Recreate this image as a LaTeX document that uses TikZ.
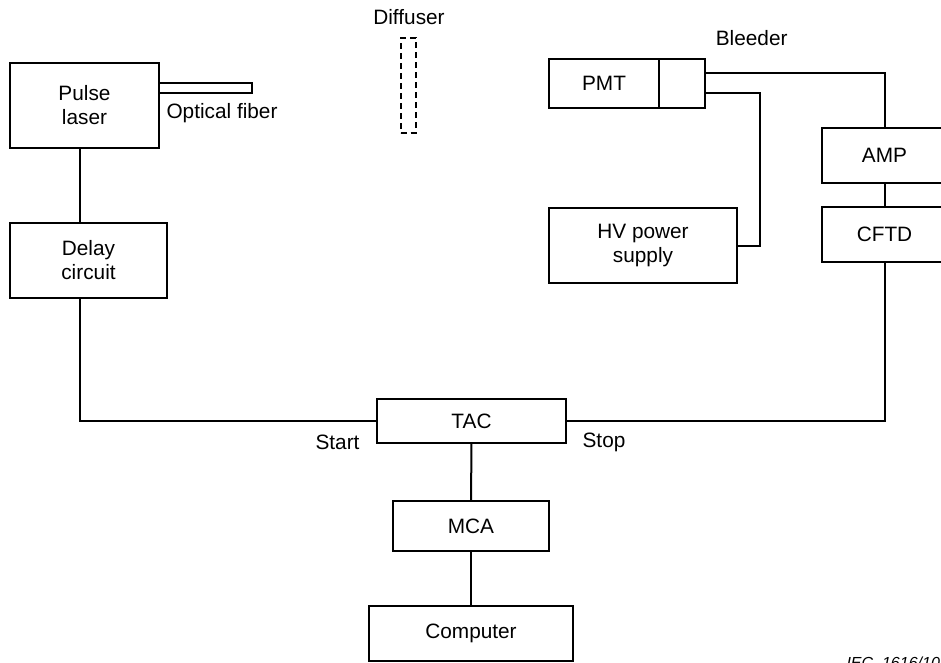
\documentclass[tikz,border=0pt]{standalone}
\usepackage{fontspec}
\setmainfont{Liberation Sans}
\usepackage{tikz}
\usetikzlibrary{positioning,calc}

\begin{document}
\begin{tikzpicture}[x=1pt, y=-1pt, font=\fontsize{20.8}{24}\selectfont,
    box/.style={draw, rectangle, line width=2pt, inner sep=0pt, outer sep=0pt, align=center},
    wire/.style={line width=2pt}]
        \useasboundingbox (0,0) rectangle (941,662);
        % laser side
        \node[box, minimum width=149pt, minimum height=85pt] (laser) at (84.5,105.5) {Pulse\\laser};
        \node[box, minimum width=93pt, minimum height=10pt] (fiber) at (205.5,88) {};
        \node (fiberlbl) at (222,113) {Optical fiber};
        \node[box, dash pattern=on 6pt off 4pt, minimum width=15pt, minimum height=95pt] (diff) at (408.2,85.5) {};
        \node (difflbl) at (409,17) {Diffuser};
        \node[box, minimum width=157pt, minimum height=75pt] (delay) at (88.5,260.5) {Delay\\circuit};
        % detector side
        \node[box, minimum width=110pt, minimum height=49pt] (pmt) at (604,83.5) {PMT};
        \node[box, minimum width=46pt, minimum height=49pt] (bleeder) at (682,83.5) {};
        \node (bleedlbl) at (751.7,38) {Bleeder};
        \node[box, minimum width=188pt, minimum height=75pt] (hv) at (643,245.5) {HV power\\supply};
        \node[box, minimum width=125pt, minimum height=55pt] (amp) at (884.5,155.5) {AMP};
        \node[box, minimum width=125pt, minimum height=55pt] (cftd) at (884.5,234.5) {CFTD};
        % timing chain
        \node[box, minimum width=189pt, minimum height=44pt] (tac) at (471.5,421) {TAC};
        \node[box, minimum width=156pt, minimum height=50pt] (mca) at (471,526) {MCA};
        \node[box, minimum width=204pt, minimum height=55pt] (comp) at (471,633.5) {Computer};
        \node (start) at (337.5,442) {Start};
        \node (stop) at (604,442) {Stop};
        \node[anchor=base west, font=\fontsize{16}{18}\selectfont\itshape] (iec) at (843,668) {IEC\ \ 1616/10};
        \coordinate (xl) at (80,0);
        \coordinate (xh) at (760,0);
        \draw[wire] (laser.south -| xl) -- (delay.north -| xl);
        \draw[wire] (delay.south -| xl) |- (tac.west);
        \draw[wire] (tac.east) -| (cftd.south);
        \draw[wire] (amp.south) -- (cftd.north);
        \draw[wire] ($(bleeder.north east)!.29!(bleeder.south east)$) -| (amp.north);
        \draw[wire] ($(bleeder.north east)!.69!(bleeder.south east)$) -| (hv.east -| xh) -- (hv.east);
        \draw[wire] (tac.south) -- (mca.north);
        \draw[wire] (mca.south) -- (comp.north);
      \end{tikzpicture}
\end{document}
